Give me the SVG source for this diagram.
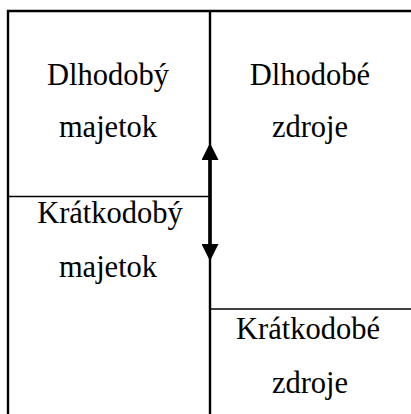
<svg xmlns="http://www.w3.org/2000/svg" width="411" height="414" viewBox="0 0 411 414">
  <style>
    .frame { stroke: #000; stroke-width: 2.4; fill: none; }
    .rule { stroke: #000; stroke-width: 1.4; fill: none; }
    text { font-family: 'Liberation Serif', 'Times New Roman', serif; font-size: 30.5px; fill: #000; text-anchor: middle; }
  </style>
  <defs>
    <marker id="head" viewBox="0 0 17 17" refX="0" refY="8.5" markerWidth="17" markerHeight="17" markerUnits="userSpaceOnUse" orient="auto-start-reverse">
      <path d="M0,0 L17,8.5 L0,17 Z" fill="#000"/>
    </marker>
  </defs>

  <!-- outer frame and column divider -->
  <g id="frame">
    <path class="frame" d="M8,414 V11 H411"/>
    <line class="frame" x1="210" y1="11" x2="210" y2="414"/>
  </g>

  <g id="dlhodoby-majetok">
    <text x="108" y="85">Dlhodobý</text>
    <text x="108" y="137">majetok</text>
  </g>

  <g id="kratkodoby-majetok">
    <line class="rule" x1="8" y1="196.5" x2="210" y2="196.5"/>
    <text x="110" y="223">Krátkodobý</text>
    <text x="108" y="277">majetok</text>
  </g>

  <g id="dlhodobe-zdroje">
    <text x="310" y="85">Dlhodobé</text>
    <text x="310" y="137">zdroje</text>
  </g>

  <g id="kratkodobe-zdroje">
    <line class="rule" x1="210" y1="309" x2="411" y2="309"/>
    <text x="308" y="339">Krátkodobé</text>
    <text x="310" y="393">zdroje</text>
  </g>

  <!-- double-headed shift arrow on the divider -->
  <g id="connectors">
    <line x1="210" y1="160" x2="210" y2="244" stroke="#000" stroke-width="3.6" marker-start="url(#head)" marker-end="url(#head)"/>
  </g>
</svg>
